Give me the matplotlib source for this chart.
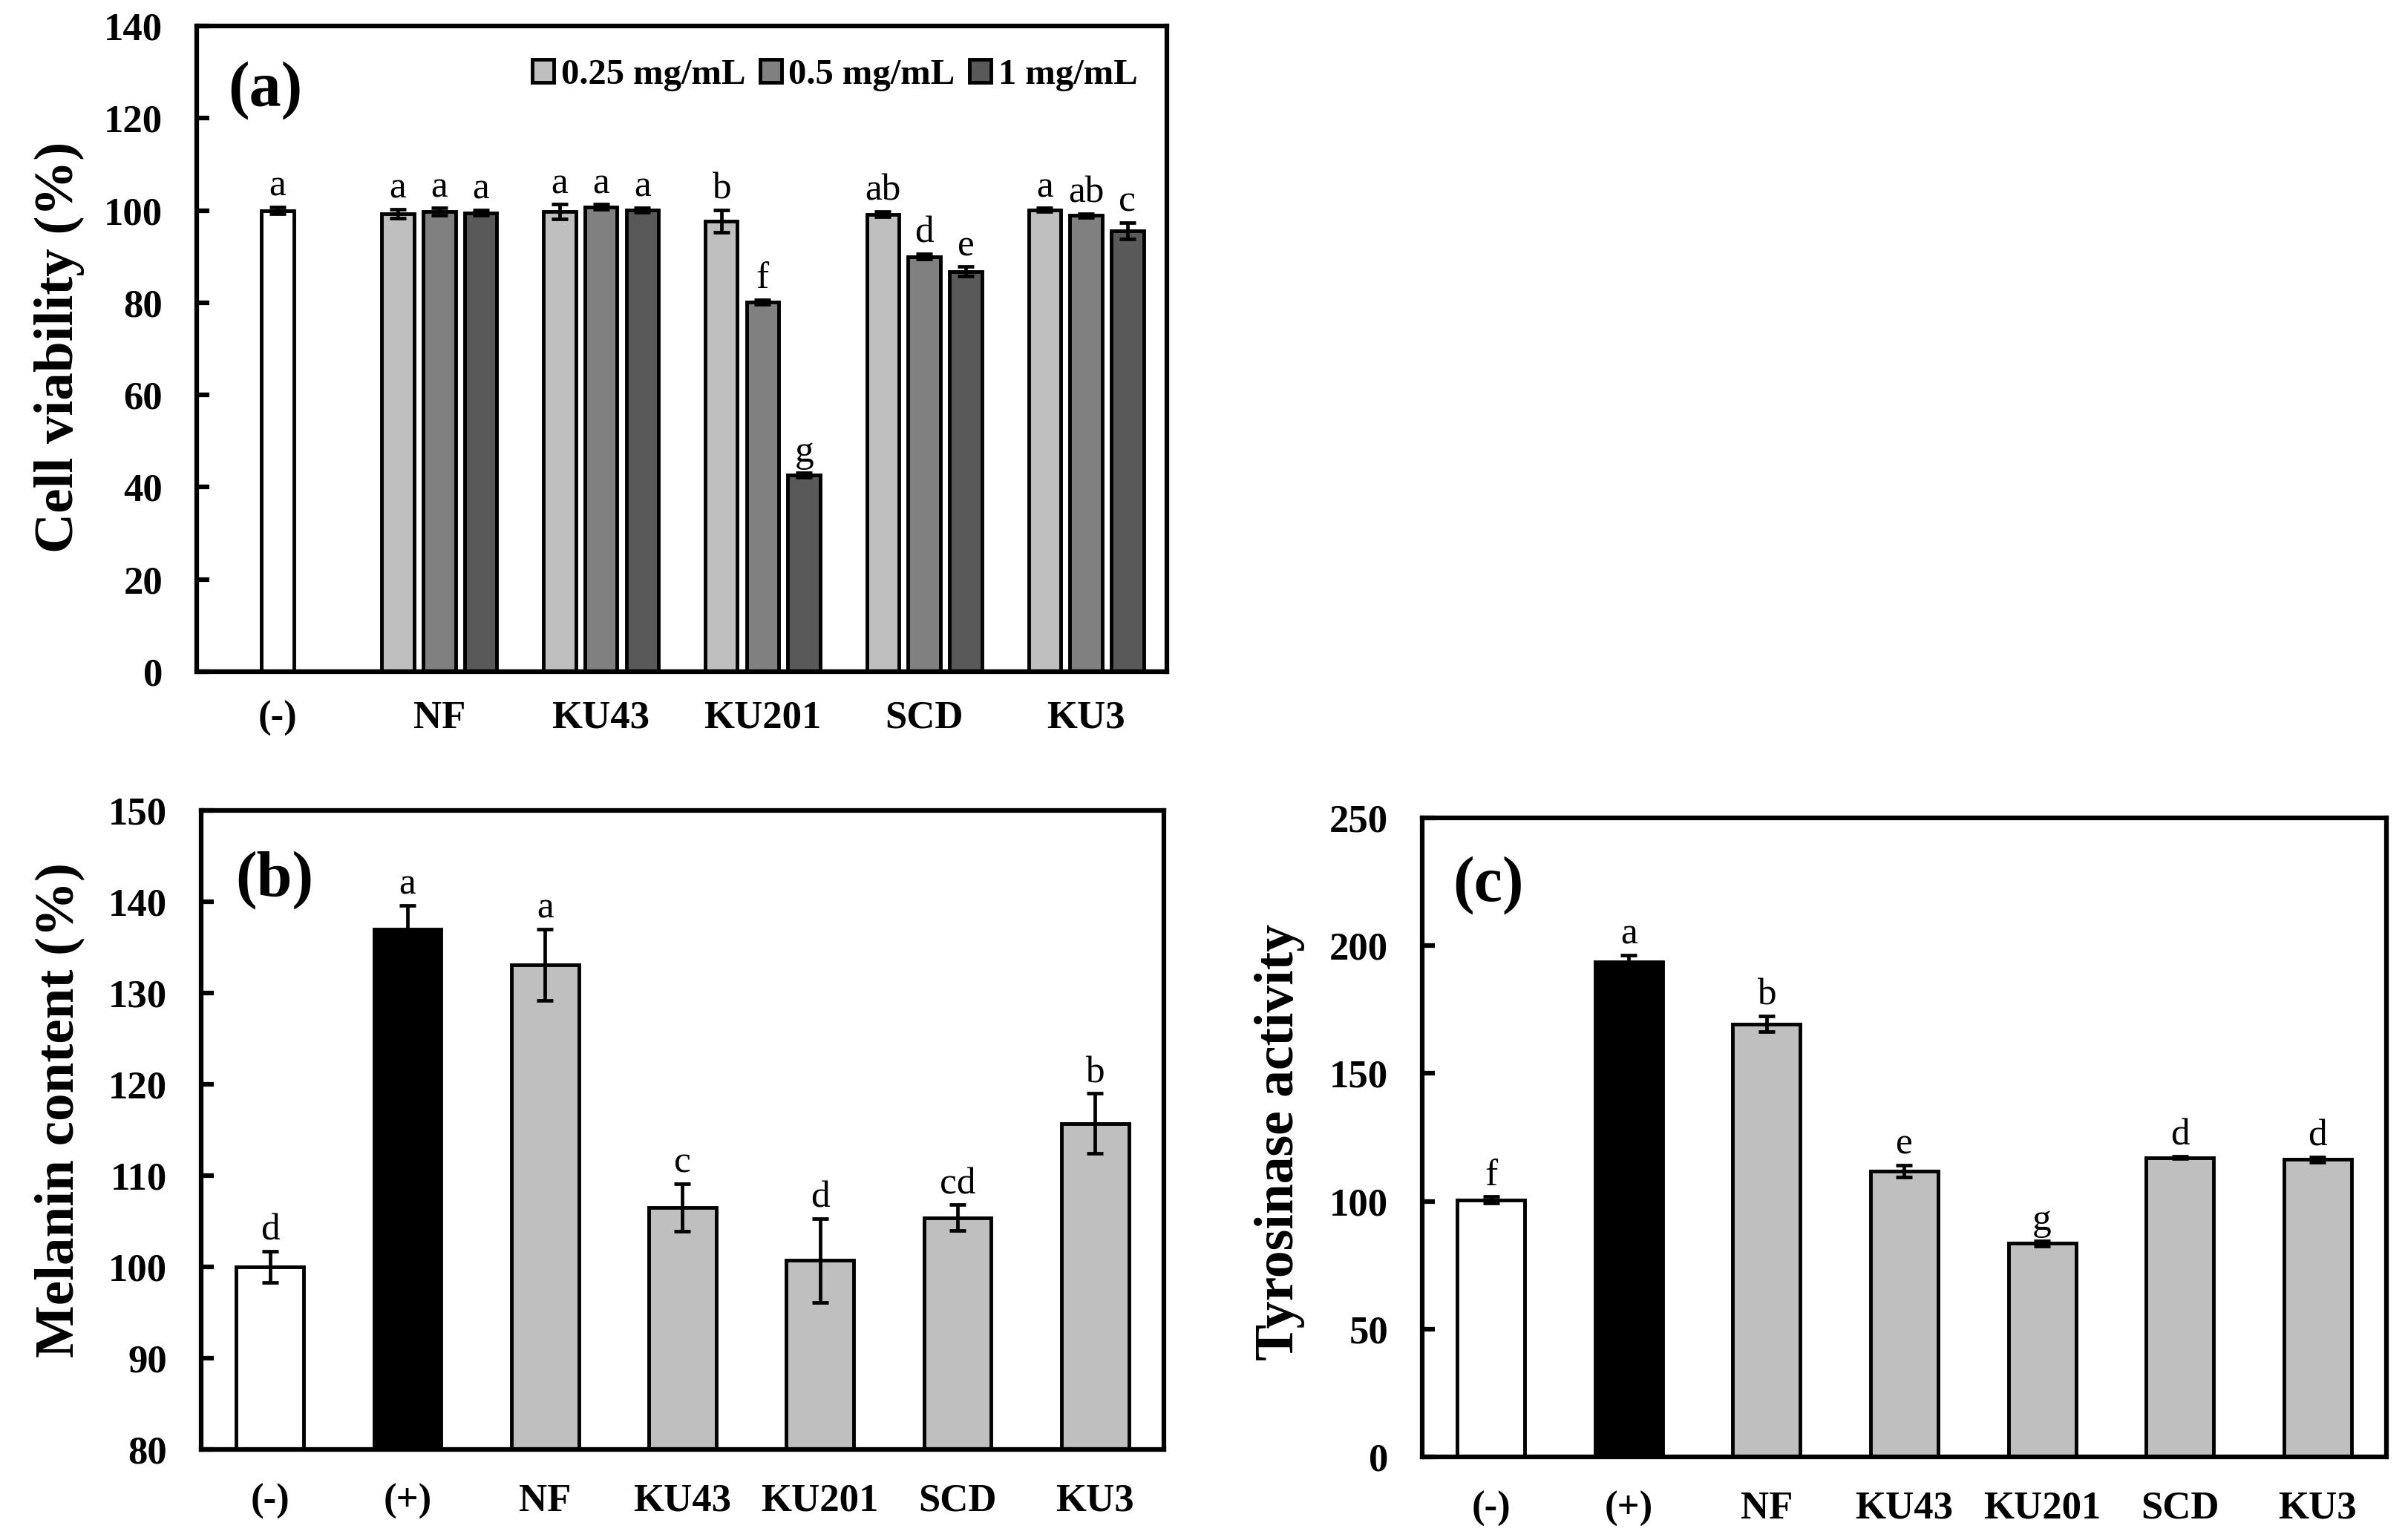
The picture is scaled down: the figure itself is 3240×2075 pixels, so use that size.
import numpy as np
import matplotlib
matplotlib.use("Agg")
import matplotlib.pyplot as plt

plt.rcParams['font.family'] = ['Liberation Serif', 'DejaVu Serif']

# (a) cell viability
groups_a = ['NF', 'KU43', 'KU201', 'SCD', 'KU3']
neg_a = 100.0
neg_a_err = 0.7
v025 = [99.3, 99.7, 97.7, 99.2, 100.1]
e025 = [1.0, 1.6, 2.4, 0.6, 0.4]
v05 = [99.7, 100.8, 80.2, 90.0, 98.9]
e05 = [0.8, 0.5, 0.5, 0.6, 0.4]
v1 = [99.5, 100.1, 42.6, 86.8, 95.6]
e1 = [0.6, 0.5, 0.5, 1.0, 1.8]
let_neg_a = 'a'
let025 = ['a', 'a', 'b', 'ab', 'a']
let05 = ['a', 'a', 'f', 'd', 'ab']
let1 = ['a', 'a', 'g', 'e', 'c']
conc_labels = ['0.25 mg/mL', '0.5 mg/mL', '1 mg/mL']

# (b) melanin content, (c) tyrosinase activity
cats_bc = ['(-)', '(+)', 'NF', 'KU43', 'KU201', 'SCD', 'KU3']
mel = [100.0, 137.0, 133.1, 106.5, 100.7, 105.4, 115.7]
mel_err = [1.7, 2.6, 3.9, 2.6, 4.6, 1.4, 3.3]
mel_let = ['d', 'a', 'a', 'c', 'd', 'cd', 'b']
tyr = [100.6, 193.6, 169.4, 111.8, 83.5, 117.1, 116.4]
tyr_err = [1.3, 2.7, 3.0, 2.4, 1.0, 0.5, 1.0]
tyr_let = ['f', 'a', 'b', 'e', 'g', 'd', 'd']

W, H = 3241, 2075
fig = plt.figure(figsize=(W / 100, H / 100), dpi=100)

c_light = '#BFBFBF'
c_mid = '#808080'
c_dark = '#595959'
elw = 3.5
err_kw = dict(fmt='none', ecolor='black', elinewidth=3.4, capsize=8, capthick=3.4, zorder=3)
tick_fs = 38
let_fs = 37


def style(ax, ylo, yhi, ystep, xpad):
    ax.set_ylim(ylo, yhi)
    ax.set_yticks(np.arange(ylo, yhi + 0.1, ystep))
    for s in ax.spines.values():
        s.set_linewidth(4.5)
    ax.tick_params(axis='y', direction='in', length=12, width=4.5, pad=33, labelsize=tick_fs)
    ax.tick_params(axis='x', length=0, pad=xpad, labelsize=tick_fs)
    for lab in ax.get_xticklabels() + ax.get_yticklabels():
        lab.set_fontweight('bold')


def letters(ax, xs, tops, labs):
    for x, t, l in zip(xs, tops, labs):
        ax.annotate(l, (x, t), xytext=(0, 11), textcoords='offset points',
                    ha='center', va='baseline', fontsize=let_fs)


# ---------- (a) ----------
ax = fig.add_axes([265 / W, 1 - 905 / H, 1307 / W, 870 / H])
bw = 0.2
off = 0.256
xg = np.arange(1, len(groups_a) + 1)
ax.bar(0, neg_a, bw, color='white', edgecolor='black', linewidth=elw, zorder=2)
ax.errorbar(0, neg_a, yerr=neg_a_err, **err_kw)
b1 = ax.bar(xg - off, v025, bw, color=c_light, edgecolor='black', linewidth=elw, zorder=2, label=conc_labels[0])
b2 = ax.bar(xg, v05, bw, color=c_mid, edgecolor='black', linewidth=elw, zorder=2, label=conc_labels[1])
b3 = ax.bar(xg + off, v1, bw, color=c_dark, edgecolor='black', linewidth=elw, zorder=2, label=conc_labels[2])
ax.errorbar(xg - off, v025, yerr=e025, **err_kw)
ax.errorbar(xg, v05, yerr=e05, **err_kw)
ax.errorbar(xg + off, v1, yerr=e1, **err_kw)
letters(ax, [0], [neg_a + neg_a_err], [let_neg_a])
letters(ax, xg - off, np.array(v025) + np.array(e025), let025)
letters(ax, xg, np.array(v05) + np.array(e05), let05)
letters(ax, xg + off, np.array(v1) + np.array(e1), let1)
ax.set_xlim(-0.5, 5.5)
ax.set_xticks(np.arange(0, 6))
ax.set_xticklabels(['(-)'] + groups_a)
style(ax, 0, 140, 20, 28)
ax.legend(loc='upper right', bbox_to_anchor=(0.97, 0.95), ncol=3, frameon=False,
          prop={'size': 35, 'weight': 'bold'}, handlelength=0.6, handleheight=0.6,
          handletextpad=0.2, columnspacing=0.4, borderaxespad=0, borderpad=0)
ax.text(0.032, 0.9, '(a)', transform=ax.transAxes, fontsize=62, fontweight='bold',
        ha='left', va='center')
fig.text(80 / W, 1 - 468 / H, 'Cell viability (%)', rotation=90, fontsize=54,
         fontweight='bold', ha='center', va='center')

# ---------- (b) ----------
bar_colors = ['white', 'black'] + [c_light] * 5
xs = np.arange(len(cats_bc))
ax = fig.add_axes([271 / W, 1 - 1953 / H, 1297 / W, 861 / H])
ax.bar(xs, np.array(mel) - 80, 0.49, bottom=80, color=bar_colors, edgecolor='black', linewidth=elw, zorder=2)
ax.errorbar(xs, mel, yerr=mel_err, **err_kw)
letters(ax, xs, np.array(mel) + np.array(mel_err), mel_let)
ax.set_xlim(-0.5, 6.5)
ax.set_xticks(xs)
ax.set_xticklabels(cats_bc)
style(ax, 80, 150, 10, 33)
ax.text(0.036, 0.891, '(b)', transform=ax.transAxes, fontsize=62, fontweight='bold',
        ha='left', va='center')
fig.text(80 / W, 1 - 1496 / H, 'Melanin content (%)', rotation=90, fontsize=54,
         fontweight='bold', ha='center', va='center')

# ---------- (c) ----------
ax = fig.add_axes([1916 / W, 1 - 1963 / H, 1299 / W, 861 / H])
ax.bar(xs, tyr, 0.49, color=bar_colors, edgecolor='black', linewidth=elw, zorder=2)
ax.errorbar(xs, tyr, yerr=tyr_err, **err_kw)
letters(ax, xs, np.array(tyr) + np.array(tyr_err), tyr_let)
ax.set_xlim(-0.5, 6.5)
ax.set_xticks(xs)
ax.set_xticklabels(cats_bc)
style(ax, 0, 250, 50, 33)
ax.text(0.032, 0.894, '(c)', transform=ax.transAxes, fontsize=62, fontweight='bold',
        ha='left', va='center')
fig.text(1724 / W, 1 - 1539 / H, 'Tyrosinase activity', rotation=90, fontsize=53,
         fontweight='bold', ha='center', va='center')

fig.savefig('out.png', dpi=100, facecolor='white')
